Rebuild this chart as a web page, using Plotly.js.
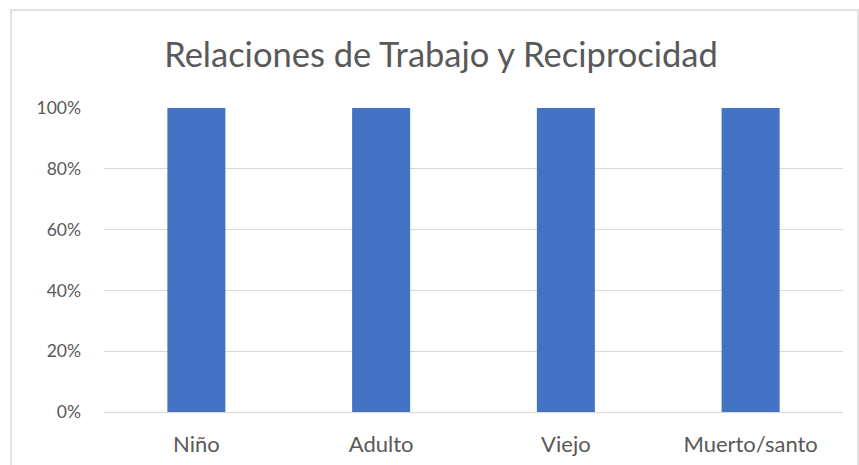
<!DOCTYPE html>
<html>
<head>
<meta charset="utf-8">
<script src="https://cdn.plot.ly/plotly-3.0.1.min.js"></script>
<style>html,body{margin:0;padding:0;background:#fff;}#chart{width:859px;height:465px;}</style>
</head>
<body>
<div id="chart"></div>
<script>
const categories = ["Niño", "Adulto", "Viejo", "Muerto/santo"];
const values = [1, 1, 1, 1];
const tickVals = [0, 0.2, 0.4, 0.6, 0.8, 1];
const tickText = ["0%", "20%", "40%", "60%", "80%", "100%"];
const chartTitle = "Relaciones de Trabajo y Reciprocidad";

const W = 859, H = 465;
const m = {l: 104, r: 16, t: 108, b: 53};
const pw = W - m.l - m.r, ph = H - m.t - m.b;
const px = x => (x - m.l) / pw;
const py = y => 1 - (y - m.t) / ph;

const trace = {
  type: "bar",
  x: categories,
  y: values,
  marker: {color: "#4472C4"},
  hoverinfo: "skip"
};

const layout = {
  width: W, height: H,
  margin: m,
  paper_bgcolor: "#ffffff",
  plot_bgcolor: "#ffffff",
  bargap: 0.686,
  showlegend: false,
  font: {family: "Lato, sans-serif", color: "#595959"},
  title: {
    text: chartTitle,
    font: {family: "Lato, sans-serif", size: 34.5, weight: 400, color: "#595959"},
    xref: "container", x: 441 / W, xanchor: "center",
    yref: "container", y: 1 - 55 / H, yanchor: "middle"
  },
  xaxis: {
    type: "category",
    showgrid: false,
    showline: true, linecolor: "#D9D9D9", linewidth: 1,
    ticks: "",
    tickfont: {family: "Lato, sans-serif", size: 22, weight: 400, color: "#595959"},
    ticklabelstandoff: 13,
    fixedrange: true
  },
  yaxis: {
    range: [0, 1],
    tickvals: tickVals,
    ticktext: tickText,
    showgrid: true, gridcolor: "#D9D9D9", gridwidth: 1,
    zeroline: false,
    showline: false,
    ticks: "",
    tickfont: {family: "Lato, sans-serif", size: 17.5, weight: 400, color: "#595959"},
    ticklabelstandoff: 22,
    fixedrange: true
  },
  shapes: [{
    type: "rect", xref: "paper", yref: "paper",
    x0: px(11), x1: px(858), y0: py(480), y1: py(10),
    line: {color: "#D9D9D9", width: 1.5},
    fillcolor: "rgba(0,0,0,0)",
    layer: "below"
  }]
};

Plotly.newPlot("chart", [trace], layout, {displayModeBar: false, staticPlot: true});
</script>
</body>
</html>
